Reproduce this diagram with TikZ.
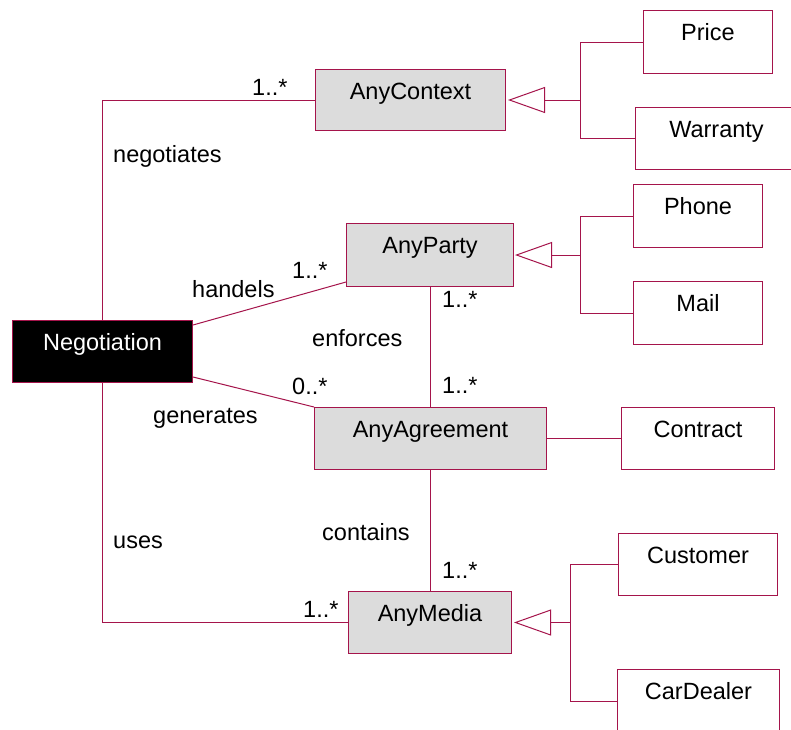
\documentclass[tikz,border=0pt]{standalone}
\usepackage{fontspec}
\setmainfont{Liberation Sans}
\usetikzlibrary{arrows.meta}
\definecolor{lc}{RGB}{165,20,75}
\definecolor{boxgray}{RGB}{220,220,220}
\newcommand{\dfont}{\fontsize{23.5pt}{28pt}\selectfont}
\tikzset{
  cls/.style={draw=lc, line width=1pt, inner sep=0pt, anchor=north west,
    text height=30pt, align=center, font=\dfont},
  gbox/.style={cls, fill=boxgray},
  lab/.style={inner sep=0pt, anchor=base west, font=\dfont},
  conn/.style={draw=lc, line width=1pt},
  gen/.style={conn, -{Triangle[open, length=37pt, width=26pt]}},
}
\begin{document}
\begin{tikzpicture}[x=1pt, y=-1pt]
\clip (0,0) rectangle (791,729);
\fill[white] (0,0) rectangle (791,729);
% classes
\node[gbox, minimum width=190pt, text depth=31pt] (ctx) at (315,69) {AnyContext};
\node[cls, minimum width=129pt, text depth=33pt] (price) at (643,10) {Price};
\node[cls, minimum width=162pt, text depth=32pt] (warranty) at (635,107) {Warranty};
\node[cls, minimum width=129pt, text depth=33pt] (phone) at (633,184) {Phone};
\node[gbox, minimum width=167pt, text depth=33pt] (party) at (346,223) {AnyParty};
\node[cls, minimum width=129pt, text depth=33pt] (mail) at (633,281) {Mail};
\node[cls, fill=black, text=white, minimum width=180pt, text depth=32pt] (neg) at (12,320) {Negotiation};
\node[gbox, minimum width=232pt, text depth=32pt] (agr) at (314,407) {AnyAgreement};
\node[cls, minimum width=153pt, text depth=32pt] (contract) at (621,407) {Contract};
\node[gbox, minimum width=163pt, text depth=32pt] (media) at (348,591) {AnyMedia};
\node[cls, minimum width=159pt, text depth=32pt] (customer) at (618,533) {Customer};
\node[cls, minimum width=162pt, text depth=32pt] (cardealer) at (617,669) {CarDealer};
% associations
\draw[conn] (neg.north) |- (ctx.west);
\draw[conn] (neg.south) |- (media.west);
\draw[conn] ([yshift=-5pt]neg.north east) -- ([yshift=5pt]party.south west);
\draw[conn] ([yshift=6pt]neg.south east) -- (agr.north west);
\draw[conn] (party.south) -- (party.south |- agr.north);
\draw[conn] (agr.south) -- (agr.south |- media.north);
\draw[conn] (agr.east) -- (contract.west);
% generalizations
\coordinate (jC) at ([xshift=74pt]ctx.east);
\coordinate (jP) at ([xshift=66pt]party.east);
\coordinate (jM) at ([xshift=58pt]media.east);
\draw[gen] (jC) -- ([xshift=2pt]ctx.east);
\draw[conn] (price.west) -| (jC) |- (warranty.west);
\draw[gen] (jP) -- ([xshift=1pt]party.east);
\draw[conn] (phone.west) -| (jP) |- (mail.west);
\draw[gen] (jM) -- ([xshift=2pt]media.east);
\draw[conn] (customer.west) -| (jM) |- ([yshift=-1pt]cardealer.west);
% labels
\node[lab] (m1) at (252,95) {1..*};
\node[lab] (l1) at (113,162) {negotiates};
\node[lab] (l2) at (192,297) {handels};
\node[lab] (m2) at (292,278) {1..*};
\node[lab] (l3) at (312,346) {enforces};
\node[lab] (m3) at (292,394) {0..*};
\node[lab] (l4) at (153,423) {generates};
\node[lab] (m4) at (442,307) {1..*};
\node[lab] (m5) at (442,393) {1..*};
\node[lab] (l5) at (322,540) {contains};
\node[lab] (l6) at (113,548) {uses};
\node[lab] (m6) at (303,617) {1..*};
\node[lab] (m7) at (442,578) {1..*};
\end{tikzpicture}
\end{document}
